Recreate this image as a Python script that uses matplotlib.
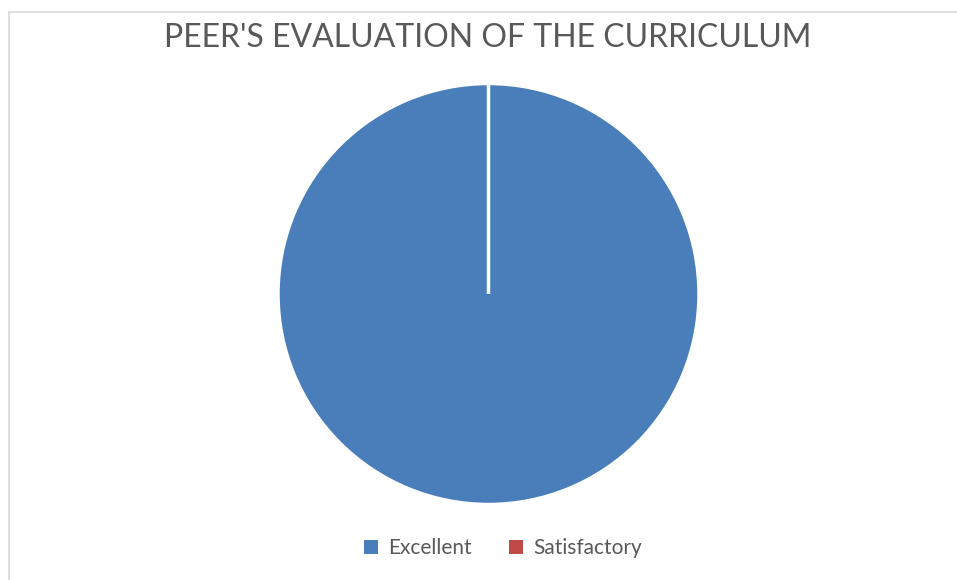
import matplotlib
matplotlib.use('Agg')
import matplotlib.pyplot as plt
from matplotlib.lines import Line2D
from matplotlib.patches import Patch

# data
categories = ['Excellent', 'Satisfactory']
values = [100, 0]
colors = ['#4A7EBB', '#BE4B48']
title = "PEER'S EVALUATION OF THE CURRICULUM"

plt.rcParams['font.family'] = ['Lato', 'DejaVu Sans']

W, H = 957, 580
fig = plt.figure(figsize=(W / 100, H / 100), dpi=100)

# pie axes: centre (488.5, 294) px from top, radius ~210 px
r = 210.5
cx, cy = 488.5, H - 294
ax = fig.add_axes([(cx - r) / W, (cy - r) / H, 2 * r / W, 2 * r / H])
ax.pie(values, colors=colors, startangle=90, counterclock=False,
       wedgeprops=dict(edgecolor='white', linewidth=2.5))
ax.set_xlim(-1, 1)
ax.set_ylim(-1, 1)
ax.set_aspect('equal')
ax.axis('off')

# chart-area border (left and top only are visible)
fig.add_artist(Line2D([8.5 / W, 8.5 / W], [0, 1 - 11.5 / H], transform=fig.transFigure,
                      color='#d9d9d9', lw=1.2))
fig.add_artist(Line2D([8.5 / W, 1], [1 - 11.5 / H, 1 - 11.5 / H], transform=fig.transFigure,
                      color='#d9d9d9', lw=1.2))

fig.text(488 / W, 1 - 38 / H, title, ha='center', va='center',
         fontsize=23, color='#595959')

handles = [Patch(facecolor=c, edgecolor='none') for c in colors]
fig.legend(handles, categories, loc='center', bbox_to_anchor=(503 / W, 1 - 548 / H),
           ncol=2, frameon=False, fontsize=15, labelcolor='#595959',
           handlelength=0.65, handleheight=0.65, handletextpad=0.5, columnspacing=1.8)

fig.savefig('out.png', dpi=100)
